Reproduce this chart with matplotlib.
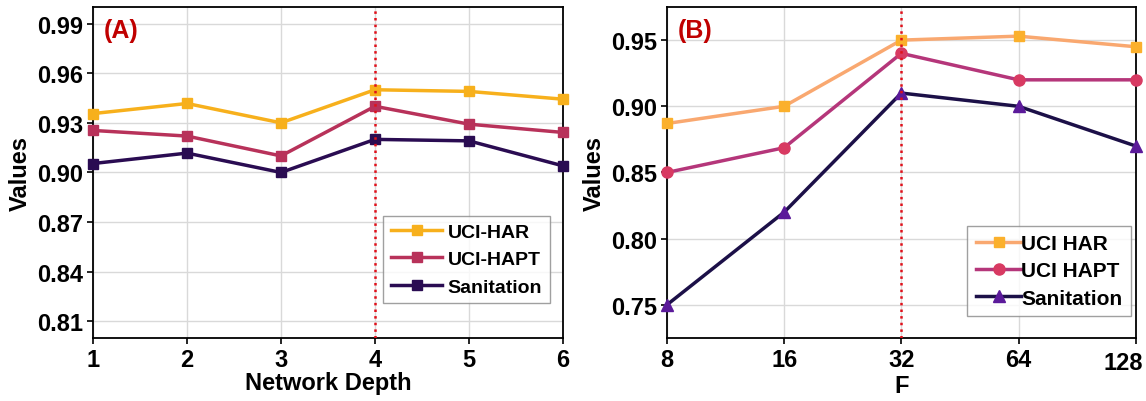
import matplotlib.pyplot as plt
from matplotlib.transforms import ScaledTranslation

plt.rcParams['font.family'] = ['Liberation Sans', 'DejaVu Sans']
plt.rcParams['font.weight'] = 'bold'

# Panel A data
depth = [1, 2, 3, 4, 5, 6]
har_a = [0.9356, 0.9417, 0.930, 0.950, 0.949, 0.9443]
hapt_a = [0.9254, 0.922, 0.910, 0.940, 0.9292, 0.9242]
san_a = [0.9054, 0.9117, 0.900, 0.920, 0.9191, 0.904]

# Panel B data
f_labels = ['8', '16', '32', '64', '128']
har_b = [0.887, 0.900, 0.950, 0.953, 0.945]
hapt_b = [0.850, 0.8687, 0.940, 0.920, 0.920]
san_b = [0.750, 0.820, 0.910, 0.900, 0.870]

fig = plt.figure(figsize=(11.46, 4.02), dpi=100)
ax1 = fig.add_axes([0.0812, 0.157, 0.410, 0.823])
ax2 = fig.add_axes([0.582, 0.157, 0.409, 0.823])

# ---- Panel A ----
ax1.plot(depth, har_a, color='#f7b01c', marker='s', ms=7.5, lw=2.5, label='UCI-HAR', clip_on=False, zorder=3)
ax1.plot(depth, hapt_a, color='#b8325a', marker='s', ms=7.5, lw=2.5, label='UCI-HAPT', clip_on=False, zorder=3)
ax1.plot(depth, san_a, color='#2a0c52', marker='s', ms=7.5, lw=2.5, label='Sanitation', clip_on=False, zorder=3)
ax1.axvline(4, color='#e0101a', ls=':', lw=1.8, zorder=4)
ax1.set_xlim(1, 6)
ax1.set_ylim(0.80, 1.00)
ax1.set_yticks([0.81, 0.84, 0.87, 0.90, 0.93, 0.96, 0.99])
ax1.set_yticklabels(['%.2f' % v for v in [0.81, 0.84, 0.87, 0.90, 0.93, 0.96, 0.99]])
ax1.set_xticks(depth)
ax1.set_xlabel('Network Depth', fontsize=17, fontweight='bold', labelpad=0)
ax1.set_ylabel('Values', fontsize=17, fontweight='bold', labelpad=4)
ax1.text(0.022, 0.93, '(A)', transform=ax1.transAxes, color='#c00000', fontsize=18, fontweight='bold', va='center')
ax1.legend(loc='lower right', bbox_to_anchor=(0.993, 0.075), fontsize=14, handlelength=2.6,
           handletextpad=0.3, borderpad=0.4, labelspacing=0.5, fancybox=False, edgecolor='#888888')

# ---- Panel B ----
xb = list(range(len(f_labels)))
ax2.plot(xb, har_b, color='#f9a870', marker='s', mfc='#fbb02c', mec='#fbb02c', ms=7.5, lw=2.5, label='UCI HAR', clip_on=False, zorder=3)
ax2.plot(xb, hapt_b, color='#b5367a', marker='o', mfc='#d83a62', mec='#d83a62', ms=8, lw=2.5, label='UCI HAPT', clip_on=False, zorder=3)
ax2.plot(xb, san_b, color='#1c1048', marker='^', mfc='#5b1a9a', mec='#5b1a9a', ms=8, lw=2.5, label='Sanitation', clip_on=False, zorder=3)
ax2.axvline(2, color='#e0101a', ls=':', lw=1.8, zorder=4)
ax2.set_xlim(0, 4)
ax2.set_ylim(0.725, 0.975)
ax2.set_yticks([0.75, 0.80, 0.85, 0.90, 0.95])
ax2.set_yticklabels(['%.2f' % v for v in [0.75, 0.80, 0.85, 0.90, 0.95]])
ax2.set_xticks(xb)
ax2.set_xticklabels(f_labels)
ax2.set_xlabel('F', fontsize=17, fontweight='bold', labelpad=0)
ax2.set_ylabel('Values', fontsize=17, fontweight='bold', labelpad=4)
ax2.text(0.022, 0.93, '(B)', transform=ax2.transAxes, color='#c00000', fontsize=18, fontweight='bold', va='center')
ax2.legend(loc='lower right', bbox_to_anchor=(1.012, 0.035), fontsize=15, handlelength=2.2,
           handletextpad=0.0, borderpad=0.4, labelspacing=0.4, fancybox=False, edgecolor='#888888')

for ax in (ax1, ax2):
    ax.grid(True, color='#d9d9d9', lw=1)
    ax.set_axisbelow(True)
    ax.tick_params(axis='both', labelsize=17, direction='out', length=4, width=1.2, pad=3)
    for lab in ax.get_xticklabels() + ax.get_yticklabels():
        lab.set_fontweight('bold')
    for s in ax.spines.values():
        s.set_linewidth(1.3)
        s.set_color('black')
    ax.get_legend().get_frame().set_linewidth(1.0)

# last F label sits shifted inward, as in the reference
last = ax2.get_xticklabels()[-1]
last.set_transform(last.get_transform() + ScaledTranslation(-0.12, -0.03, fig.dpi_scale_trans))

fig.savefig('out.png', dpi=100)
